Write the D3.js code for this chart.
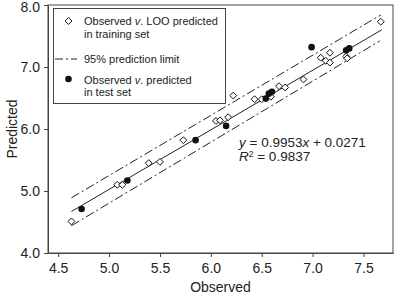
<!DOCTYPE html>
<html><head><meta charset="utf-8">
<script src="https://cdn.jsdelivr.net/npm/d3@7"></script>
<style>body{margin:0;background:#fff}svg{display:block;font-family:"Liberation Sans",Arial,Helvetica,sans-serif}</style>
</head><body>
<svg id="c" width="394" height="296"></svg>
<script>
// Training set: observed vs LOO predicted (open diamonds)
const trainObserved = [4.63,5.08,5.13,5.39,5.50,5.73,6.05,6.09,6.17,6.22,6.43,6.50,6.59,6.67,6.73,6.91,7.08,7.17,7.13,7.17,7.33,7.34,7.67];
const trainPredicted = [4.51,5.10,5.10,5.45,5.47,5.82,6.13,6.14,6.19,6.54,6.48,6.48,6.52,6.69,6.67,6.80,7.15,7.23,7.10,7.07,7.17,7.14,7.73];
// Test set: observed vs predicted (filled circles)
const testObserved = [4.73,5.18,5.85,6.15,6.54,6.57,6.60,6.99,7.33,7.36];
const testPredicted = [4.71,5.17,5.82,6.05,6.49,6.57,6.60,7.32,7.27,7.30];
// Regression line and 95% prediction limits (end points)
const fitX = [4.63, 7.68], fitY = [4.67, 7.60];
const upperX = [4.63, 7.67], upperY = [4.89, 7.84];
const lowerX = [4.63, 7.66], lowerY = [4.44, 7.42];
const xTicks = [4.5,5.0,5.5,6.0,6.5,7.0,7.5];
const yTicks = [4.0,5.0,6.0,7.0,8.0];

const svg = d3.select("#c");
const x = d3.scaleLinear().domain([4.4, 7.79]).range([48, 393]);
const y = d3.scaleLinear().domain([4, 8]).range([253, 5]);
const frame = "#444";

// frame
svg.append("rect").attr("x",48).attr("y",5).attr("width",345).attr("height",248)
  .attr("fill","none").attr("stroke",frame).attr("stroke-width",1);

const xa = svg.append("g").attr("transform","translate(0,253)")
  .call(d3.axisBottom(x).tickValues(xTicks).tickFormat(d3.format(".1f")).tickSize(4).tickSizeOuter(0).tickPadding(6));
const ya = svg.append("g").attr("transform","translate(48,0)")
  .call(d3.axisLeft(y).tickValues(yTicks).tickFormat(d3.format(".1f")).tickSize(4).tickSizeOuter(0).tickPadding(4));
[xa,ya].forEach(a=>{
  a.selectAll("path").attr("stroke",frame);
  a.selectAll("line").attr("stroke",frame);
  a.selectAll("text").attr("font-size",14).attr("fill","#222").attr("font-family","Liberation Sans, Arial, sans-serif");
});
ya.selectAll(".tick text").filter(d=>d===8).attr("dy","0.45em");

svg.append("text").attr("x",220.5).attr("y",292).attr("text-anchor","middle")
  .attr("font-size",14).attr("fill","#222").text("Observed");
svg.append("text").attr("transform","translate(17,129) rotate(-90)").attr("text-anchor","middle")
  .attr("font-size",14).attr("fill","#222").text("Predicted");

const line = d3.line().x(d=>x(d[0])).y(d=>y(d[1]));
const dash = "9,3,2,3";
svg.append("path").attr("d",line(d3.zip(upperX,upperY))).attr("stroke","#222").attr("fill","none").attr("stroke-dasharray",dash);
svg.append("path").attr("d",line(d3.zip(lowerX,lowerY))).attr("stroke","#222").attr("fill","none").attr("stroke-dasharray",dash);
svg.append("path").attr("d",line(d3.zip(fitX,fitY))).attr("stroke","#222").attr("fill","none");

const diamond = d3.symbol().type(d3.symbolDiamond2).size(30)();
svg.append("g").selectAll("path").data(d3.zip(trainObserved,trainPredicted)).join("path")
  .attr("d",diamond).attr("transform",d=>`translate(${x(d[0])},${y(d[1])})`)
  .attr("fill","#fff").attr("stroke","#111").attr("stroke-width",1);
svg.append("g").selectAll("circle").data(d3.zip(testObserved,testPredicted)).join("circle")
  .attr("cx",d=>x(d[0])).attr("cy",d=>y(d[1])).attr("r",3.3).attr("fill","#111");

// equation text
const eq = svg.append("text").attr("x",239).attr("y",147).attr("font-size",13.5).attr("fill","#222");
eq.append("tspan").attr("font-style","italic").text("y");
eq.append("tspan").text(" = 0.9953");
eq.append("tspan").attr("font-style","italic").text("x");
eq.append("tspan").text(" + 0.0271");
const r2 = svg.append("text").attr("x",239).attr("y",161).attr("font-size",13.5).attr("fill","#222");
r2.append("tspan").attr("font-style","italic").text("R");
r2.append("tspan").attr("font-size",8.5).attr("dy",-4).text("2");
r2.append("tspan").attr("dy",4).text(" = 0.9837");

// legend
const lg = svg.append("g");
lg.append("rect").attr("x",53.5).attr("y",8.5).attr("width",172).attr("height",95)
  .attr("fill","#fff").attr("stroke",frame);
lg.append("path").attr("d",diamond).attr("transform","translate(68.5,21)")
  .attr("fill","#fff").attr("stroke","#111");
lg.append("line").attr("x1",55).attr("x2",77).attr("y1",59).attr("y2",59).attr("stroke","#222").attr("stroke-dasharray","8,3,2,3");
lg.append("circle").attr("cx",68.5).attr("cy",79).attr("r",3.3).attr("fill","#111");
const lt = (yy, parts) => {
  const t = lg.append("text").attr("x",84).attr("y",yy).attr("font-size",11).attr("fill","#222");
  parts.forEach(p=>t.append("tspan").attr("font-style",p[1]?"italic":"normal").text(p[0]));
};
lt(25,[["Observed "],["v",1],[". LOO predicted"]]);
lt(37.5,[["in training set"]]);
lt(63,[["95% prediction limit"]]);
lt(83.5,[["Observed "],["v",1],[". predicted"]]);
lt(96,[["in test set"]]);
</script>
</body></html>
